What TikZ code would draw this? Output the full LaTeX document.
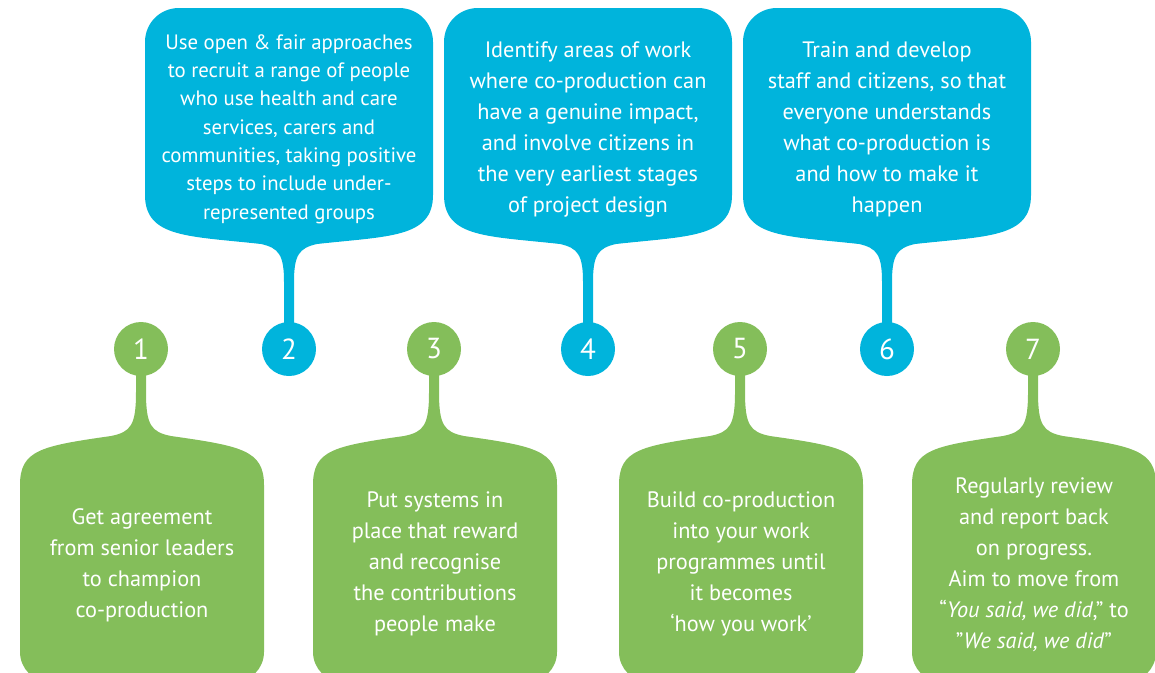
\documentclass[tikz,border=0pt]{standalone}
\usepackage{fontspec}
\setmainfont{PT Sans}
\definecolor{stepgreen}{HTML}{84BE5A}
\definecolor{stepblue}{HTML}{00B4DC}
\begin{document}
\begin{tikzpicture}[x=1pt, y=-1pt,
  numdot/.style={circle, minimum size=54pt, inner sep=0pt, text=white,
    font=\fontsize{29}{29}\selectfont},
  greendot/.style={numdot, fill=stepgreen},
  bluedot/.style={numdot, fill=stepblue},
  boxtext/.style={text=white, align=center, inner sep=0pt,
    font=\fontsize{22.3}{31}\selectfont},
  smalltext/.style={boxtext, font=\fontsize{20.8}{28.3}\selectfont}]
\useasboundingbox (0,0) rectangle (1155,672);
\clip (0,0) rectangle (1155,672);

% green boxes below, with a stem rising to their number
\foreach \cx in {141,434,740,1033} {
  \fill[stepgreen, shift={(\cx,0)}]
    (-5,349) -- (-5,392)
    .. controls (-5,425) and (-10,432) .. (-30,436)
    .. controls (-100,446) and (-121,450) .. (-121,485)
    -- (-121,652) .. controls (-121,668.6) and (-107.6,682) .. (-91,682)
    -- (93,682) .. controls (109.6,682) and (123,668.6) .. (123,652)
    -- (123,485)
    .. controls (123,450) and (100,446) .. (30,436)
    .. controls (10,432) and (5,425) .. (5,392)
    -- (5,349) -- cycle;
}

% blue boxes above, with a stem hanging down to their number
\foreach \cx in {289,588,887} {
  \fill[stepblue, shift={(\cx,0)}]
    (-5,349) -- (-5,282)
    .. controls (-5,255) and (-10,248) .. (-28,244)
    .. controls (-100,236) and (-144,238) .. (-144,195)
    -- (-144,42) .. controls (-144,23) and (-129,8) .. (-110,8)
    -- (110,8) .. controls (129,8) and (144,23) .. (144,42)
    -- (144,195)
    .. controls (144,238) and (100,236) .. (28,244)
    .. controls (10,248) and (5,255) .. (5,282)
    -- (5,349) -- cycle;
}

% numbered dots
\node[greendot] (c1) at (141,349) {1};
\node[bluedot]  (c2) at (289,349) {2};
\node[greendot] (c3) at (434,349) {3};
\node[bluedot]  (c4) at (588,349) {4};
\node[greendot] (c5) at (740,349) {5};
\node[bluedot]  (c6) at (887,349) {6};
\node[greendot] (c7) at (1033,349) {7};

% step texts
\node[boxtext] (t1) at (142,565) {Get agreement\\from senior leaders\\to champion\\co-production};
\node[smalltext] (t2) at (289,129) {Use open \& fair approaches\\to recruit a range of people\\who use health and care\\services, carers and\\communities, taking positive\\steps to include under-\\represented groups};
\node[boxtext] (t3) at (435,564) {Put systems in\\place that reward\\and recognise\\the contributions\\people make};
\node[boxtext] (t4) at (588,129) {Identify areas of work\\where co-production can\\have a genuine impact,\\and involve citizens in\\the very earliest stages\\of project design};
\node[boxtext] (t5) at (741,564) {Build co-production\\into your work\\programmes until\\it becomes\\‘how you work’};
\node[boxtext] (t6) at (887,129) {Train and develop\\staff and citizens, so that\\everyone understands\\what co-production is\\and how to make it\\happen};
\node[boxtext] (t7) at (1034,565) {Regularly review\\and report back\\on progress.\\Aim to move from\\“\textit{You said, we did},” to\\”\textit{We said, we did}”};
\end{tikzpicture}
\end{document}
